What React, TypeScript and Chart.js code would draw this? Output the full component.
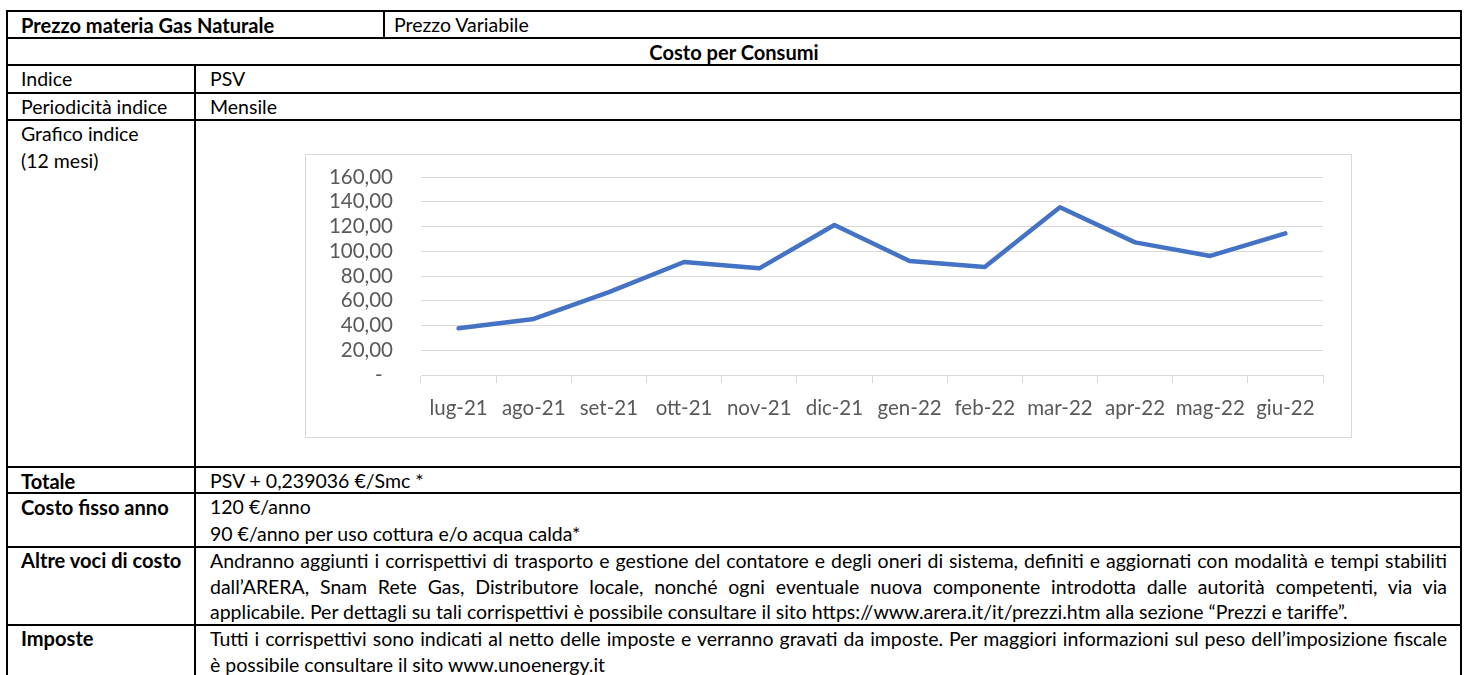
import React, { useEffect, useRef } from "react";
import { Chart, registerables } from "chart.js";

Chart.register(...registerables);

// ---- Chart data ----
const categories = [
  "lug-21", "ago-21", "set-21", "ott-21", "nov-21", "dic-21",
  "gen-22", "feb-22", "mar-22", "apr-22", "mag-22", "giu-22",
];
const psvValues = [37.7, 45.3, 67.0, 91.3, 86.2, 121.2, 92.1, 87.3, 135.5, 107.2, 96.2, 114.5];
const yMin = 0;
const yMax = 160;
const yStep = 20;

// ---- Table text ----
const headerLeft = "Prezzo materia Gas Naturale";
const headerRight = "Prezzo Variabile";
const sectionTitle = "Costo per Consumi";
const indiceLabel = "Indice";
const indiceValue = "PSV";
const periodLabel = "Periodicità indice";
const periodValue = "Mensile";
const graficoLines = ["Grafico indice", "(12 mesi)"];
const totaleLabel = "Totale";
const totaleValue = "PSV + 0,239036 €/Smc *";
const fissoLabel = "Costo fisso anno";
const fissoLines = ["120 €/anno", "90 €/anno per uso cottura e/o acqua calda*"];
const altreLabel = "Altre voci di costo";
const altreLines = [
  "Andranno aggiunti i corrispettivi di trasporto e gestione del contatore e degli oneri di sistema, definiti e aggiornati con modalità e tempi stabiliti",
  "dall’ARERA, Snam Rete Gas, Distributore locale, nonché ogni eventuale nuova componente introdotta dalle autorità competenti, via via",
  "applicabile. Per dettagli su tali corrispettivi è possibile consultare il sito https://www.arera.it/it/prezzi.htm alla sezione “Prezzi e tariffe”.",
];
const imposteLabel = "Imposte";
const imposteLines = [
  "Tutti i corrispettivi sono indicati al netto delle imposte e verranno gravati da imposte. Per maggiori informazioni sul peso dell’imposizione fiscale",
  "è possibile consultare il sito www.unoenergy.it",
];

const FONT = "Lato, 'Open Sans', sans-serif";
const LINE_H = 26.7;
const PARA_LINE_H = 25.5;
const JUSTIFY_W = 1237;
const BOLD_SCALE = 1.03;

function fitFontSize(): number {
  const base = 19.5;
  try {
    const c = document.createElement("canvas").getContext("2d");
    if (!c) return 18;
    c.font = `${base}px Lato`;
    const w = c.measureText(altreLines[0]).width;
    const limit = JUSTIFY_W - 6;
    return w > limit ? (base * limit) / w : base;
  } catch {
    return 18;
  }
}

const H = ({ y, x1 = 6, x2 = 1462 }: { y: number; x1?: number; x2?: number }) => (
  <div style={{ position: "absolute", left: x1, top: y, width: x2 - x1, height: 2, background: "#000" }} />
);
const V = ({ x, y1, y2 }: { x: number; y1: number; y2: number }) => (
  <div style={{ position: "absolute", left: x, top: y1, width: 2, height: y2 - y1, background: "#000" }} />
);

const Txt = ({
  x, y, lines, bold, fs, justifyAll, lh = LINE_H,
}: { x: number; y: number; lines: string[]; bold?: boolean; fs: number; justifyAll?: boolean; lh?: number }) => (
  <div style={{ position: "absolute", left: x, top: y, fontFamily: FONT, fontSize: bold ? fs * BOLD_SCALE : fs, lineHeight: `${lh}px`, fontWeight: bold ? 700 : 400, color: "#000" }}>
    {lines.map((l, i) => {
      const just = justifyAll && i < lines.length - 1;
      return (
        <div key={i} style={just ? { width: JUSTIFY_W, textAlign: "justify", textAlignLast: "justify", whiteSpace: "normal" } : { whiteSpace: "nowrap" }}>
          {l}
        </div>
      );
    })}
  </div>
);

function PsvChart() {
  const ref = useRef<HTMLCanvasElement | null>(null);
  useEffect(() => {
    if (!ref.current) return;
    const chart = new Chart(ref.current, {
      type: "line",
      data: {
        labels: categories,
        datasets: [
          {
            data: psvValues,
            borderColor: "#4472C4",
            backgroundColor: "#4472C4",
            borderWidth: 4.5,
            pointRadius: 0,
            pointHoverRadius: 0,
            tension: 0,
            fill: false,
            borderCapStyle: "round",
            borderJoinStyle: "round",
          },
        ],
      },
      options: {
        responsive: false,
        animation: false,
        devicePixelRatio: 1,
        layout: { padding: { left: 0, right: 29, top: 23, bottom: 0 } },
        plugins: { legend: { display: false }, tooltip: { enabled: false }, title: { display: false } },
        scales: {
          x: {
            type: "category",
            offset: true,
            grid: { offset: true, drawOnChartArea: false, drawTicks: true, tickLength: 8, color: "#d9d9d9", lineWidth: 1 },
            border: { display: true, color: "#d9d9d9", width: 1 },
            ticks: { color: "#595959", font: { family: "Lato", size: 20.5 }, padding: 13, maxRotation: 0, minRotation: 0, autoSkip: false },
            afterFit: (s: any) => { s.height = 63; },
          },
          y: {
            min: yMin,
            max: yMax,
            grid: { drawTicks: true, tickLength: 28, tickColor: "rgba(0,0,0,0)", color: "#d9d9d9", lineWidth: 1 },
            border: { display: false },
            ticks: {
              stepSize: yStep,
              autoSkip: false,
              padding: 0,
              color: "#595959",
              font: { family: "Lato", size: 20.5 },
              callback: (v: any) => (Number(v) === 0 ? "-  " : Number(v).toFixed(2).replace(".", ",")),
            },
            afterFit: (s: any) => { s.width = 116; },
          },
        },
      },
    } as any);
    return () => chart.destroy();
  }, []);
  return (
    <>
      <canvas ref={ref} width={1047} height={284} style={{ position: "absolute", left: 305, top: 154, width: 1047, height: 284, background: "#fff" }} />
      <div style={{ position: "absolute", left: 305, top: 154, width: 1047, height: 284, boxSizing: "border-box", border: "1px solid #d9d9d9", pointerEvents: "none" }} />
    </>
  );
}

export default function App() {
  const fs = fitFontSize();
  const L = 21;
  const C = 210;
  return (
    <div style={{ position: "absolute", left: 0, top: 0, width: 1468, height: 675, overflow: "hidden", background: "#fff" }}>
      {/* borders */}
      <H y={10} />
      <H y={37} />
      <H y={64} />
      <H y={92} />
      <H y={119} />
      <H y={466} />
      <H y={492} />
      <H y={546} />
      <H y={624} />
      <V x={6} y1={10} y2={675} />
      <V x={1460} y1={10} y2={675} />
      <V x={383} y1={10} y2={38} />
      <V x={194} y1={64} y2={675} />

      {/* row texts */}
      <Txt x={L} y={12} lines={[headerLeft]} bold fs={fs} />
      <Txt x={394} y={12} lines={[headerRight]} fs={fs} />
      <div style={{ position: "absolute", left: 8, top: 39, width: 1452, textAlign: "center", fontFamily: FONT, fontSize: fs * BOLD_SCALE, lineHeight: `${LINE_H}px`, fontWeight: 700 }}>
        {sectionTitle}
      </div>
      <Txt x={L} y={66} lines={[indiceLabel]} fs={fs} />
      <Txt x={C} y={66} lines={[indiceValue]} fs={fs} />
      <Txt x={L} y={94} lines={[periodLabel]} fs={fs} />
      <Txt x={C} y={94} lines={[periodValue]} fs={fs} />
      <Txt x={L} y={121} lines={graficoLines} fs={fs} />

      <PsvChart />

      <Txt x={L} y={468} lines={[totaleLabel]} bold fs={fs} />
      <Txt x={C} y={468} lines={[totaleValue]} fs={fs} />
      <Txt x={L} y={494} lines={[fissoLabel]} bold fs={fs} />
      <Txt x={C} y={494} lines={fissoLines} fs={fs} />
      <Txt x={L} y={548} lines={[altreLabel]} bold fs={fs} lh={PARA_LINE_H} />
      <Txt x={C} y={548} lines={altreLines} fs={fs} justifyAll lh={PARA_LINE_H} />
      <Txt x={L} y={626} lines={[imposteLabel]} bold fs={fs} lh={PARA_LINE_H} />
      <Txt x={C} y={626} lines={imposteLines} fs={fs} justifyAll lh={PARA_LINE_H} />
    </div>
  );
}
